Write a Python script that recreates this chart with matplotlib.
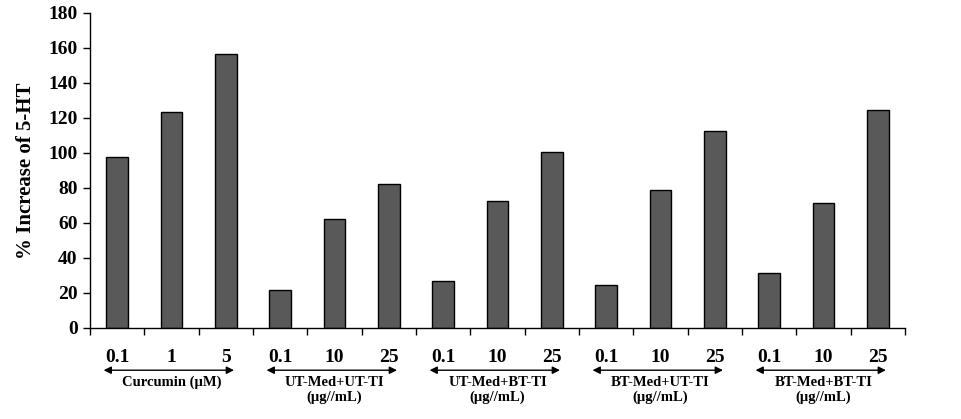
import numpy as np
import matplotlib.pyplot as plt

plt.rcParams['font.family'] = ['Liberation Serif', 'DejaVu Serif']
plt.rcParams['font.weight'] = 'bold'

# values
conc_labels = ['0.1', '1', '5', '0.1', '10', '25', '0.1', '10', '25',
               '0.1', '10', '25', '0.1', '10', '25']
increase = [97.9, 123.7, 156.8, 21.5, 62.0, 82.0, 26.6, 72.3, 100.8,
            24.4, 78.6, 112.3, 31.2, 71.7, 124.8]
groups = ['Curcumin (\u00b5M)', 'UT-Med+UT-TI\n(\u00b5g//mL)',
          'UT-Med+BT-TI\n(\u00b5g//mL)', 'BT-Med+UT-TI\n(\u00b5g//mL)',
          'BT-Med+BT-TI\n(\u00b5g//mL)']

fig = plt.figure(figsize=(9.62, 4.19), dpi=100)
ax = fig.add_axes([0.0936, 0.2172, 0.8471, 0.7518])

x = np.arange(len(increase))
ax.bar(x, increase, width=0.4, color='#595959', edgecolor='black', linewidth=1)

ax.set_xlim(-0.5, len(increase) - 0.5)
ax.set_ylim(0, 180)
ax.set_yticks(np.arange(0, 181, 20))
ax.tick_params(axis='y', labelsize=14, length=5, width=1, pad=4)

# category labels at bar centres, tick marks at the boundaries
ax.set_xticks(x)
ax.set_xticklabels(conc_labels, fontsize=14, fontweight='bold')
ax.tick_params(axis='x', which='major', length=0, pad=15)
ax.set_xticks(np.arange(-0.5, len(increase)), minor=True)
ax.tick_params(axis='x', which='minor', length=5, width=1, direction='out')

for s in ['top', 'right']:
    ax.spines[s].set_visible(False)
for s in ['left', 'bottom']:
    ax.spines[s].set_linewidth(1)

ax.set_ylabel('% Increase of 5-HT', fontsize=15, fontweight='bold', labelpad=9)

trans = ax.get_xaxis_transform()
for i, g in enumerate(groups):
    x0 = 3 * i
    ax.annotate('', xy=(x0 - 0.25, -0.134), xytext=(x0 + 2.15, -0.134),
                xycoords=trans, textcoords=trans, annotation_clip=False,
                arrowprops=dict(arrowstyle='<|-|>', color='black', lw=1,
                                mutation_scale=11, shrinkA=0, shrinkB=0))
    ax.text(x0 + 1, -0.152, g, transform=trans, ha='center', va='top',
            fontsize=10.5, fontweight='bold', linespacing=1.2)

fig.savefig('out.png', dpi=100)
